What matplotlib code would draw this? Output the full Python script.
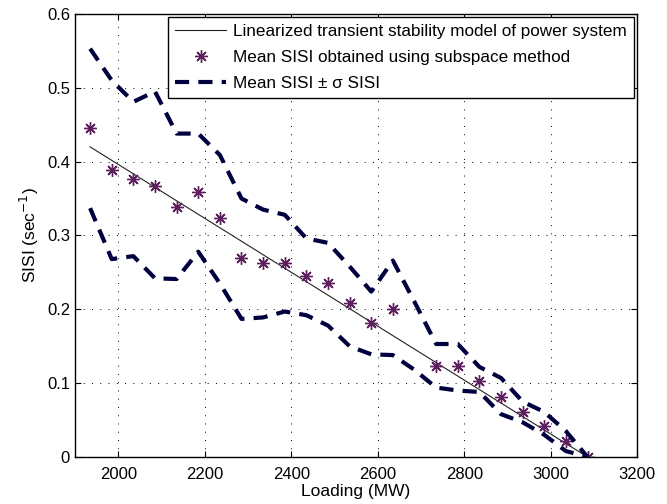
import numpy as np
import matplotlib.pyplot as plt

plt.rcParams['font.family'] = ['Liberation Sans', 'DejaVu Sans']

# loading levels (MW)
loading = [1935, 1985, 2035, 2085, 2135, 2185, 2235, 2285, 2335, 2385, 2435, 2485,
           2535, 2585, 2635, 2685, 2735, 2785, 2835, 2885, 2935, 2985, 3035, 3085]

# mean SISI from subspace method (no estimate at 2685)
mean_x = [1935, 1985, 2035, 2085, 2135, 2185, 2235, 2285, 2335, 2385, 2435, 2485,
          2535, 2585, 2635, 2735, 2785, 2835, 2885, 2935, 2985, 3035, 3085]
mean_sisi = [0.445, 0.388, 0.377, 0.367, 0.339, 0.359, 0.324, 0.270, 0.263, 0.263,
             0.245, 0.236, 0.209, 0.181, 0.201, 0.123, 0.123, 0.103, 0.081, 0.061,
             0.042, 0.022, 0.0]

upper = [0.553, 0.510, 0.481, 0.495, 0.438, 0.438, 0.409, 0.350, 0.335, 0.328,
         0.296, 0.290, 0.258, 0.224, 0.266, 0.210, 0.153, 0.153, 0.122, 0.107,
         0.075, 0.061, 0.035, 0.0]
lower = [0.337, 0.268, 0.272, 0.242, 0.241, 0.278, 0.235, 0.187, 0.189, 0.197,
         0.192, 0.178, 0.150, 0.139, 0.138, 0.118, 0.094, 0.090, 0.088, 0.058,
         0.047, 0.030, 0.008, 0.0]

# linearized model
model_x = [1935, 3085]
model_y = [0.420, 0.0]

fig = plt.figure(figsize=(6.67, 5.04), dpi=100)
ax = fig.add_axes([0.1124, 0.0933, 0.843, 0.879])

ax.plot(model_x, model_y, '-', color='#222222', lw=0.8,
        label='Linearized transient stability model of power system')
ax.plot(mean_x, mean_sisi, marker=(8, 2, 0), color='#5e1f5e', ms=9, mew=1.0, ls='none',
        label='Mean SISI obtained using subspace method')
ax.plot(loading, upper, '--', color='#00003f', lw=3, dashes=(3.4, 2.2),
        label='Mean SISI \u00b1 \u03c3 SISI')
ax.plot(loading, lower, '--', color='#00003f', lw=3, dashes=(3.4, 2.2))

ax.set_xlim(1900, 3200)
ax.set_ylim(0, 0.6)
ax.set_xticks(np.arange(2000, 3201, 200))
ax.set_yticks(np.arange(0, 0.61, 0.1))
ax.set_yticklabels(['0', '0.1', '0.2', '0.3', '0.4', '0.5', '0.6'])
ax.grid(True, ls=(0, (1, 7.5)), color='black', lw=0.7)
ax.tick_params(direction='in', top=True, right=True, labelsize=12, length=4)
ax.tick_params(axis='x', pad=7.5)
for s in ax.spines.values():
    s.set_linewidth(1.0)

ax.set_xlabel('Loading (MW)', fontsize=12.5, labelpad=1)
ax.set_ylabel(r'SISI (sec$^{-1}$)', fontsize=12.5, labelpad=4)

leg = ax.legend(loc='upper right', fontsize=12.3, fancybox=False, framealpha=1,
                edgecolor='black', borderaxespad=0.2, handlelength=3.0,
                handletextpad=0.4, borderpad=0.4, labelspacing=0.65)
leg.get_frame().set_linewidth(1.0)

fig.savefig('out.png', dpi=100)
